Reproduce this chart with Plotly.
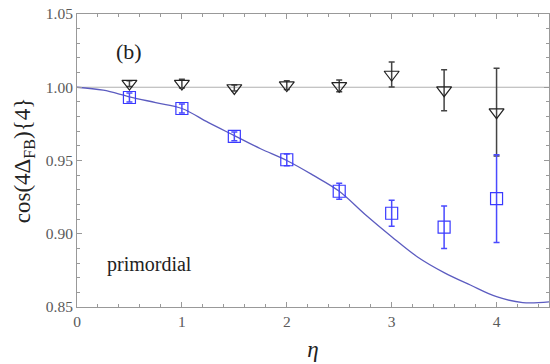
import plotly.graph_objects as go

# measured points
eta = [0.5, 1.0, 1.5, 2.0, 2.5, 3.0, 3.5, 4.0]

# primordial: fluctuations of the primordial source (open squares)
sq_val = [0.993, 0.9855, 0.9665, 0.9505, 0.929, 0.914, 0.9045, 0.924]
sq_err = [0.003, 0.003, 0.003, 0.004, 0.0055, 0.0088, 0.0145, 0.030]

# reference set (open triangles)
tri_val = [1.0025, 1.0025, 0.9995, 1.0015, 1.001, 1.0087, 0.998, 0.983]
tri_err = [0.002, 0.003, 0.002, 0.003, 0.004, 0.0085, 0.014, 0.030]

# model curve
curve_eta = [0.0, 0.25, 0.5, 0.75, 1.0, 1.25, 1.5, 1.75, 2.0, 2.25, 2.5, 2.75,
             3.0, 3.25, 3.5, 3.75, 4.0, 4.25, 4.5]
curve_val = [1.0, 0.998, 0.9935, 0.9895, 0.9855, 0.976, 0.967, 0.958, 0.950,
             0.940, 0.929, 0.913, 0.898, 0.884, 0.8735, 0.865, 0.857, 0.853, 0.8535]

serif = "Liberation Serif"
axis_gray = "#999999"
tick_font = dict(family=serif, size=15.5, color="#5a5a5a")

fig = go.Figure()

# unity reference line
fig.add_trace(go.Scatter(x=[0, 4.5], y=[1.0, 1.0], mode="lines",
                         line=dict(color="#b0b0b0", width=1.2),
                         hoverinfo="skip", showlegend=False))

fig.add_trace(go.Scatter(x=curve_eta, y=curve_val, mode="lines",
                         line=dict(color="#5c5cc0", width=1.3, shape="spline",
                                   smoothing=1.0),
                         showlegend=False))

fig.add_trace(go.Scatter(
    x=eta, y=tri_val, mode="markers",
    marker=dict(symbol="triangle-down-open", size=13, color="#222222",
                line=dict(width=1.2)),
    error_y=dict(type="data", array=tri_err, color="#444444",
                 thickness=1.5, width=3),
    showlegend=False))

fig.add_trace(go.Scatter(
    x=eta, y=sq_val, mode="markers",
    marker=dict(symbol="square-open", size=12, color="#3a3aff",
                line=dict(width=1.2)),
    error_y=dict(type="data", array=sq_err, color="#4a4aff",
                 thickness=1.5, width=3),
    showlegend=False))

fig.add_annotation(x=0.50, y=1.0245, xref="x", yref="y", text="(b)",
                   showarrow=False,
                   font=dict(family=serif, size=22, color="#222222"))
fig.add_annotation(x=0.69, y=0.879, xref="x", yref="y", text="primordial",
                   showarrow=False,
                   font=dict(family=serif, size=20, color="#222222"))

fig.update_xaxes(
    range=[0, 4.5], dtick=1, tick0=0, ticks="inside", ticklen=5,
    tickcolor=axis_gray, showline=True, linecolor=axis_gray, linewidth=1,
    mirror="ticks", showgrid=False, zeroline=False, tickfont=tick_font,
    minor=dict(ticks="inside", dtick=0.2, ticklen=3, tickcolor=axis_gray),
    title=dict(text="<i>η</i>", font=dict(family=serif, size=23, color="#222222"),
               standoff=12))
fig.update_yaxes(
    range=[0.85, 1.05], dtick=0.05, tick0=0.85, tickformat=".2f",
    ticks="inside", ticklen=5,
    tickcolor=axis_gray, showline=True, linecolor=axis_gray, linewidth=1,
    mirror="ticks", showgrid=False, zeroline=False, tickfont=tick_font,
    minor=dict(ticks="inside", dtick=0.01, ticklen=3, tickcolor=axis_gray),
    title=dict(text="cos(4Δ<sub>FB</sub>){4}",
               font=dict(family=serif, size=23, color="#222222"), standoff=8))

fig.update_layout(
    width=550, height=364,
    margin=dict(l=77, r=1, t=14, b=57),
    font=dict(family=serif),
    paper_bgcolor="white", plot_bgcolor="white",
)

fig.write_html("out.html")
